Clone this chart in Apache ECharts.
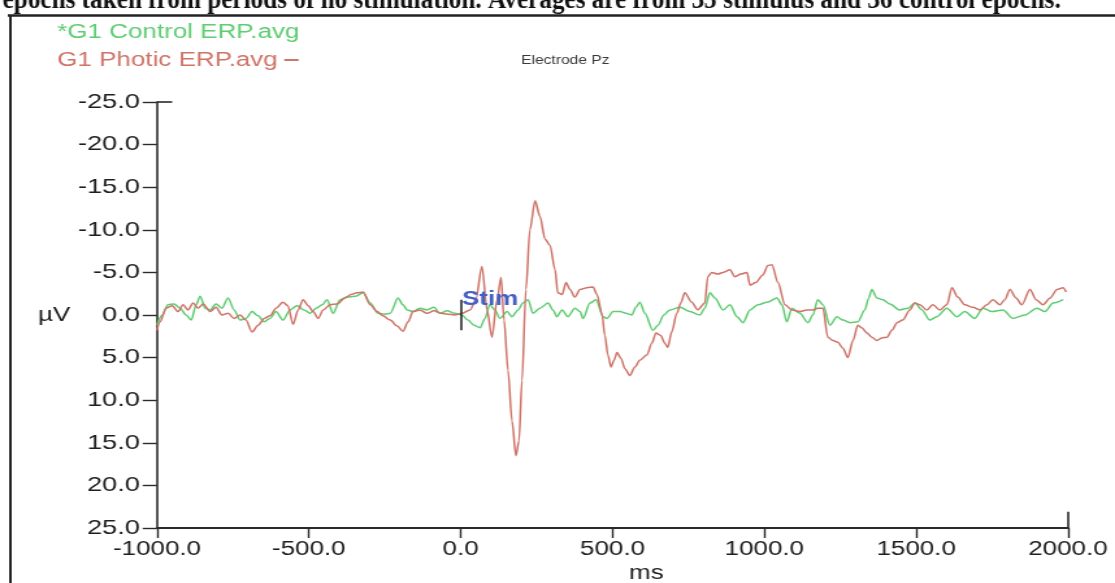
<!DOCTYPE html>
<html>
<head>
<meta charset="utf-8">
<title>Electrode Pz – G1 ERP averages</title>
<script src="https://cdn.jsdelivr.net/npm/echarts@6.0.0/dist/echarts.min.js"></script>
<style>
  html, body { margin: 0; padding: 0; background: #fff; overflow: hidden; }
  /* the plot is laid out on a narrower canvas and widened to the page */
  #chart { width: 858px; height: 583px; transform-origin: 0 0; transform: scaleX(1.29953); }
</style>
</head>
<body>
<div id="chart"></div>
<script>
// Averaged ERP waveforms at electrode Pz: [time (ms), amplitude (µV)]
const controlErp = [
  [-1000, 1.2], [-983, 0], [-964, -1.2], [-944, -1.3], [-924, -0.8], [-904, 0], [-887, 0.6],
  [-871, -1.2], [-858, -2.2], [-841, -0.8], [-825, -0.6], [-806, -1.3], [-786, -0.8], [-766, -2.0],
  [-746, -0.6], [-726, 0.6], [-707, 0.4], [-687, -0.4], [-667, 0.1], [-647, 0.8], [-628, 0.4],
  [-608, -0.4], [-585, 0.6], [-562, -0.6], [-539, -1.1], [-516, -0.6], [-496, -0.2], [-476, -0.8],
  [-456, -1.2], [-440, -1.8], [-420, -0.2], [-397, -1.8], [-374, -2.1], [-348, -2.2], [-321, -2.6],
  [-298, -1.4], [-272, -0.2], [-249, -0.1], [-232, -0.2], [-206, -2.0], [-190, -1.2], [-176, -0.6],
  [-157, -0.4], [-134, -0.8], [-111, -0.6], [-88, -0.9], [-68, -0.2], [-45, -0.5], [-19, -0.2],
  [4, 0], [24, 0.6], [44, 1.2], [64, 1.5], [80, 0.4], [96, -1.2], [113, -0.6], [129, 0.4],
  [153, -0.4], [169, 0.2], [189, -0.6], [205, -1.4], [222, -1.8], [238, -0.2], [261, -0.8],
  [288, -1.4], [304, -0.6], [317, 0.2], [334, -0.6], [353, 0.2], [376, -0.8], [393, -0.4],
  [403, 0.4], [426, -1.4], [446, -1.8], [469, 0.2], [482, 0.4], [502, -0.4], [525, -0.4],
  [544, -0.2], [564, 0], [577, -0.9], [590, -1.5], [607, -0.2], [633, 1.8], [650, 1.2], [669, 0],
  [689, -0.6], [722, -0.9], [755, -0.4], [788, 0], [804, -0.8], [821, -2.6], [837, -2.0],
  [864, -0.6], [887, -1.2], [910, 0.2], [930, 0.9], [953, -0.6], [979, -1.2], [1009, -1.5],
  [1042, -2.0], [1058, -1.2], [1074, 0.8], [1091, -0.8], [1117, -0.2], [1144, 0.9], [1160, 0],
  [1176, -1.8], [1193, -1.2], [1216, 1.2], [1239, 0.2], [1259, 0.6], [1282, 0.9], [1308, 0.8],
  [1331, -0.6], [1344, -2.0], [1354, -3.0], [1371, -2.0], [1390, -1.8], [1413, -1.3], [1446, -0.6],
  [1473, -0.8], [1496, -1.4], [1519, -0.6], [1545, 0.6], [1568, 0.2], [1601, -0.8], [1634, 0.2],
  [1660, -0.4], [1693, 0.4], [1720, -0.8], [1750, -0.4], [1786, -0.6], [1819, 0.4], [1858, 0],
  [1898, -0.8], [1924, -0.4], [1951, -1.4], [1984, -1.8]
];

const photicErp = [
  [-1000, 1.8], [-990, 0.8], [-970, -0.8], [-950, -1.1], [-931, -0.4], [-914, -1.2], [-898, -0.6],
  [-881, -1.4], [-865, -0.8], [-848, -1.3], [-825, -0.4], [-806, -0.9], [-786, 0], [-766, -0.2],
  [-746, 0.4], [-726, 0], [-707, 0.6], [-687, 2.0], [-667, 1.2], [-647, 0.4], [-628, 0.1],
  [-608, -0.8], [-585, -1.5], [-569, -1.1], [-552, 1.1], [-535, -0.6], [-519, -1.8], [-502, -1.1],
  [-486, -0.4], [-469, 0.4], [-453, -0.6], [-430, -1.2], [-407, -1.3], [-381, -2.0], [-361, -2.4],
  [-341, -2.6], [-321, -2.7], [-298, -1.2], [-275, -0.4], [-256, 0.1], [-232, 0.6], [-209, 1.3],
  [-190, 1.9], [-173, 0.8], [-157, -0.4], [-134, -0.6], [-111, -0.2], [-88, -0.5], [-65, -0.2],
  [-42, -0.1], [-19, 0],
  [4, -0.2], [31, -0.6], [50, -1.8], [70, -5.7], [87, -0.6], [103, 2.6], [120, -1.8], [133, -4.4],
  [143, 0.6], [156, 6.5], [169, 12.4], [182, 16.5], [192, 14.8], [202, 7.7], [215, -3.0],
  [228, -10.0], [245, -13.4], [261, -11.6], [278, -8.9], [294, -8.2], [311, -5.3], [320, -2.6],
  [334, -2.4], [347, -3.8], [360, -3.0], [376, -2.1], [393, -3.0], [416, -3.2], [436, -3.3],
  [449, -2.4], [465, -0.2], [475, 2.4], [485, 4.7], [495, 6.1], [505, 5.3], [515, 4.4], [528, 5.1],
  [541, 6.3], [557, 7.1], [574, 6.1], [590, 5.3], [613, 4.7], [630, 3.3], [643, 2.1], [659, 2.4],
  [672, 3.3], [682, 3.8], [695, 2.0], [712, -0.2], [725, -1.4], [738, -2.6], [761, -1.5],
  [781, -0.6], [804, -1.4], [814, -4.5], [827, -5.0], [847, -4.8], [864, -5.0], [887, -5.3],
  [903, -4.5], [923, -4.8], [943, -5.0], [953, -3.5], [972, -3.8], [995, -4.7], [1012, -5.8],
  [1025, -5.9], [1045, -3.8], [1068, -1.2], [1091, -0.6], [1117, -0.4], [1140, -0.6], [1160, -0.6],
  [1176, -0.8], [1193, -0.8], [1209, 2.6], [1226, 3.0], [1242, 3.2], [1259, 3.9], [1275, 5.0],
  [1292, 3.0], [1308, 1.2], [1321, 1.5], [1338, 2.1], [1354, 2.6], [1371, 3.0], [1387, 2.7],
  [1404, 2.6], [1420, 1.8], [1437, 0.9], [1456, 0.6], [1479, -0.6], [1496, -1.4], [1512, -1.2],
  [1535, -0.6], [1555, -1.2], [1578, -0.6], [1601, -1.2], [1618, -3.2], [1637, -2.1], [1660, -1.2],
  [1687, -0.9], [1710, -0.6], [1733, -1.2], [1753, -1.8], [1776, -1.2], [1792, -1.8], [1809, -3.0],
  [1829, -2.0], [1848, -1.2], [1875, -3.0], [1895, -1.8], [1918, -1.2], [1941, -2.0], [1964, -3.0],
  [1984, -3.2], [1994, -2.7]
];

const seriesNames = ['*G1 Control ERP.avg', 'G1 Photic ERP.avg'];
const timeRange = [-1000, 2000];     // ms
const timeStep = 500;
const voltRange = [-25, 25];         // µV, negative plotted upward
const voltStep = 5;
const stimulusTime = 0;
const captionText = 'epochs taken from periods of no stimulation. Averages are from 35 stimulus and 36 control epochs.';

const GREEN = '#5fcd72';
const RED = '#cf7468';
const INK = '#1e1e1e';
const SANS = '"Liberation Sans", Arial, sans-serif';
const CAPTION_SIZE = 19.4;

const chart = echarts.init(document.getElementById('chart'), null, { renderer: 'canvas' });

// one legend block per row so both entries start at the same left edge
function legendRow(name, color, top, showDash) {
  return {
    orient: 'vertical',
    align: 'right',
    left: 44, top: top, padding: 0,
    itemWidth: 11, itemHeight: 2,
    selectedMode: false,
    textStyle: { fontFamily: SANS, fontSize: 20, color: color },
    data: [{ name: name, icon: 'rect', itemStyle: showDash ? { color: color } : { opacity: 0 } }]
  };
}

chart.setOption({
  animation: false,
  backgroundColor: '#ffffff',
  title: {
    text: 'Electrode Pz',
    left: 401, top: 55, padding: 0,
    textStyle: { fontFamily: SANS, fontSize: 12, fontWeight: 'normal', color: '#3a3a3a' }
  },
  legend: [
    legendRow(seriesNames[0], GREEN, 22, false),
    legendRow(seriesNames[1], RED, 50, true)
  ],
  grid: { left: 120.8, right: 36.2, top: 102, bottom: 55, outerBoundsMode: 'none', containLabel: false },
  xAxis: {
    type: 'value',
    min: timeRange[0], max: timeRange[1], interval: timeStep,
    name: 'ms', nameLocation: 'middle', nameGap: 35,
    nameTextStyle: { fontFamily: SANS, fontSize: 20, color: INK, padding: [0, 0, 0, 52] },
    axisLine: { onZero: false, lineStyle: { color: '#2a2a2a', width: 1.8 } },
    axisTick: { length: 10, lineStyle: { color: '#2a2a2a', width: 1.4 } },
    axisLabel: { margin: 11, fontFamily: SANS, fontSize: 20, color: INK,
                 formatter: v => v.toFixed(1) },
    splitLine: { show: false }
  },
  yAxis: {
    type: 'value',
    inverse: true,
    min: voltRange[0], max: voltRange[1], interval: voltStep,
    name: 'µV', nameLocation: 'middle', nameRotate: 0, nameGap: 65,
    nameTextStyle: { fontFamily: SANS, fontSize: 20, color: INK },
    axisLine: { onZero: false, lineStyle: { color: '#2a2a2a', width: 1.6 } },
    axisTick: { length: 11, lineStyle: { color: '#2a2a2a', width: 1.4 } },
    axisLabel: { margin: 13, fontFamily: SANS, fontSize: 21, color: INK,
                 formatter: v => v.toFixed(1) },
    splitLine: { show: false }
  },
  graphic: [
    // caption line running off the top edge; baseline sits at y = 10
    { type: 'text', x: 2, y: 10, scaleY: 1.4, silent: true,
      style: { text: captionText, x: 0, y: -0.34 * CAPTION_SIZE, verticalAlign: 'middle',
               font: 'bold ' + CAPTION_SIZE + 'px "Liberation Serif", "Times New Roman", serif', fill: '#111' } },
    { type: 'line', silent: true, shape: { x1: 6, y1: 15.5, x2: 858, y2: 15.5 },
      style: { stroke: '#222', lineWidth: 2.4 } },
    { type: 'line', silent: true, shape: { x1: 8, y1: 15, x2: 8, y2: 583 },
      style: { stroke: '#222', lineWidth: 2 } }
  ],
  series: [
    {
      name: seriesNames[0],
      type: 'line',
      data: controlErp,
      showSymbol: false,
      smooth: 0.3,
      smoothMonotone: 'x',
      color: GREEN,
      lineStyle: { color: GREEN, width: 1.5 },
      z: 2,
      markLine: {
        silent: true,
        symbol: ['none', 'none'],
        label: { show: false },
        lineStyle: { color: '#2a2a2a', width: 1.6, type: 'solid' },
        data: [
          // cap on the top of the amplitude axis
          [{ coord: [timeRange[0], voltRange[0]] }, { coord: [timeRange[0] + 50, voltRange[0]] }],
          // end marker on the time axis
          [{ coord: [timeRange[1], voltRange[1] - 1.9] }, { coord: [timeRange[1], voltRange[1]] }],
          // stimulus onset tick
          [{ coord: [stimulusTime, -1.8] }, { coord: [stimulusTime, 1.8] }]
        ]
      }
    },
    {
      name: seriesNames[1],
      type: 'line',
      data: photicErp,
      showSymbol: false,
      smooth: 0.3,
      smoothMonotone: 'x',
      color: RED,
      lineStyle: { color: RED, width: 1.5 },
      z: 3,
      markPoint: {
        silent: true,
        symbol: 'rect',
        symbolSize: 0,
        data: [{ coord: [stimulusTime, -1.8] }],
        label: {
          show: true, position: 'right', distance: 1,
          formatter: 'Stim',
          fontFamily: SANS, fontSize: 20, fontWeight: 'bold', color: '#4560c4'
        }
      }
    }
  ]
});
</script>
</body>
</html>
